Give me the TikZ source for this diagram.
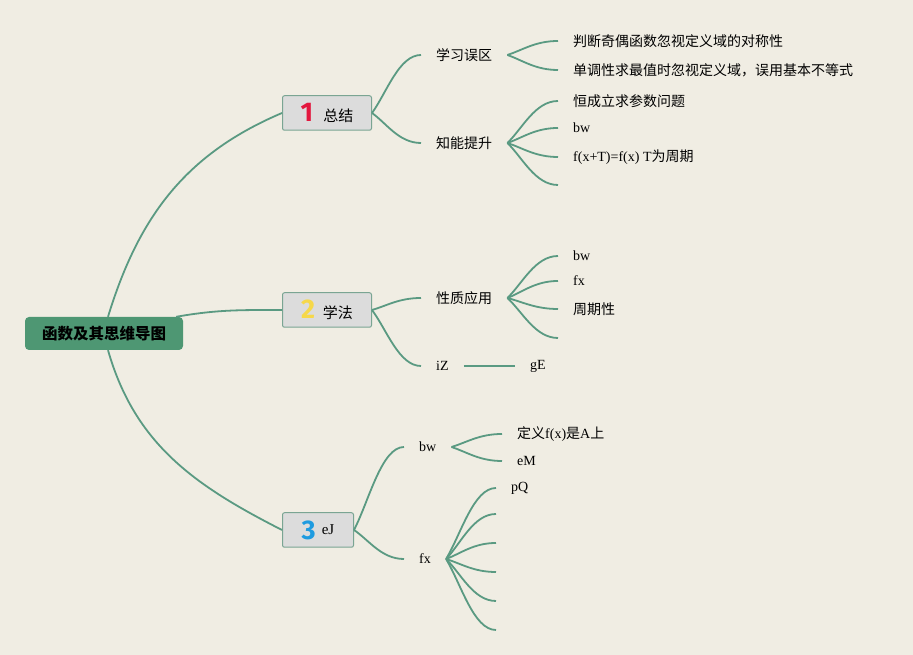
\documentclass[tikz,border=0pt]{standalone}
\usepackage{fontspec}
\usetikzlibrary{calc}
\setmainfont{Liberation Serif}
\newfontfamily\cjk{Noto Sans CJK SC}
\newfontfamily\numfont{Fira Sans}
\definecolor{bgbeige}{HTML}{F0EDE3}
\definecolor{linegreen}{HTML}{5A9A82}
\definecolor{rootgreen}{HTML}{4E9773}
\definecolor{boxgray}{HTML}{DCDCDC}
\definecolor{boxedge}{HTML}{7AA593}
\definecolor{numred}{HTML}{E3173E}
\definecolor{numyellow}{HTML}{F6D84A}
\definecolor{numblue}{HTML}{1E9BE0}
\newcommand{\topicnum}[2]{{\numfont\bfseries\fontsize{27}{27}\selectfont\color{#1}#2}}
\tikzset{
  mapline/.style={draw=linegreen, line width=1.8pt},
  fan/.style={to path={let \p1=(\tikztostart), \p2=(\tikztotarget) in
    .. controls ({\x1+0.3*(\x2-\x1)},{\y1+0.35*(\y2-\y1)}) and ({\x1+0.55*(\x2-\x1)},\y2) .. (\tikztotarget)}},
  rootbox/.style={fill=rootgreen, rounded corners=4pt, minimum width=158pt, minimum height=33pt, inner sep=0pt, font=\cjk\bfseries\fontsize{15.5}{17}\selectfont},
  topic/.style={draw=boxedge, fill=boxgray, rounded corners=2pt, line width=1pt, minimum height=34.5pt, inner sep=0pt, font=\cjk\fontsize{15}{17}\selectfont},
  sub/.style={anchor=west, inner xsep=15pt, inner ysep=2pt, font=\fontsize{14}{16}\selectfont},
  leaf/.style={anchor=west, inner xsep=15pt, inner ysep=2pt, font=\fontsize{14}{16}\selectfont}
}
\begin{document}
\begin{tikzpicture}[x=1pt,y=1pt]
  \useasboundingbox[fill=bgbeige] (0,0) rectangle (913,655);
  \draw
    (104,321.5) node[rootbox] (root) {函数及其思维导图}
    (327,542) node[topic, minimum width=89pt] (t1) {\topicnum{numred}{1}\hspace{10pt}总结}
    (327,345) node[topic, minimum width=89pt] (t2) {\topicnum{numyellow}{2}\hspace{8pt}学法}
    (318,125) node[topic, minimum width=71pt] (t3) {\topicnum{numblue}{3}\hspace{6pt}\raisebox{5pt}{\rmfamily eJ}};
  \draw
    (421,600) node[sub] (s1a) {\cjk 学习误区}
    (421,512) node[sub] (s1b) {\cjk 知能提升}
    (421,357) node[sub] (s2a) {\cjk 性质应用}
    (421,289) node[sub] (s2b) {iZ}
    (515,289) node[sub] (g2b) {gE}
    (404,208) node[sub] (s3a) {bw}
    (404,96) node[sub] (s3b) {fx};
  \draw
    (558,614) node[leaf] (l1a1) {\cjk 判断奇偶函数忽视定义域的对称性}
    (558,585) node[leaf] (l1a2) {\cjk 单调性求最值时忽视定义域，误用基本不等式}
    (558,554) node[leaf] (l1b1) {\cjk 恒成立求参数问题}
    (558,527) node[leaf] (l1b2) {bw}
    (558,498) node[leaf] (l1b3) {f(x+T)=f(x) T{\cjk 为周期}}
    (558,399) node[leaf] (l2a1) {bw}
    (558,374) node[leaf] (l2a2) {fx}
    (558,346) node[leaf] (l2a3) {\cjk 周期性}
    (502,221) node[leaf] (l3a1) {{\cjk 定义}f(x){\cjk 是}A{\cjk 上}}
    (502,194) node[leaf] (l3a2) {eM}
    (496,167) node[leaf] (l3b1) {pQ};
  \coordinate (l1b4) at (558,470);
  \coordinate (l2a4) at (558,317);
  \coordinate (l3b2) at (496,141);
  \coordinate (l3b3) at (496,112);
  \coordinate (l3b4) at (496,83);
  \coordinate (l3b5) at (496,54);
  \coordinate (l3b6) at (496,25);
  \begin{scope}[mapline]
    \draw ([xshift=4pt]root.north) to[out=73,in=203] (t1.west);
    \draw ([xshift=-7pt]root.north east) to[out=10,in=180] (t2.west);
    \draw ([xshift=4pt]root.south) to[out=-74,in=153] (t3.west);
    \draw (s2b.east) -- (g2b.west);
  \end{scope}
  \begin{scope}[mapline, fan]
    \draw (t1.east) to (s1a.west);
    \draw (t1.east) to (s1b.west);
    \draw (t2.east) to (s2a.west);
    \draw (t2.east) to (s2b.west);
    \draw (t3.east) to (s3a.west);
    \draw (t3.east) to (s3b.west);
    \draw (s1a.east) to (l1a1.west);
    \draw (s1a.east) to (l1a2.west);
    \draw (s1b.east) to (l1b1.west);
    \draw (s1b.east) to (l1b2.west);
    \draw (s1b.east) to (l1b3.west);
    \draw (s1b.east) to (l1b4);
    \draw (s2a.east) to (l2a1.west);
    \draw (s2a.east) to (l2a2.west);
    \draw (s2a.east) to (l2a3.west);
    \draw (s2a.east) to (l2a4);
    \draw (s3a.east) to (l3a1.west);
    \draw (s3a.east) to (l3a2.west);
    \draw (s3b.east) to (l3b1.west);
    \draw (s3b.east) to (l3b2);
    \draw (s3b.east) to (l3b3);
    \draw (s3b.east) to (l3b4);
    \draw (s3b.east) to (l3b5);
    \draw (s3b.east) to (l3b6);
  \end{scope}
\end{tikzpicture}
\end{document}
